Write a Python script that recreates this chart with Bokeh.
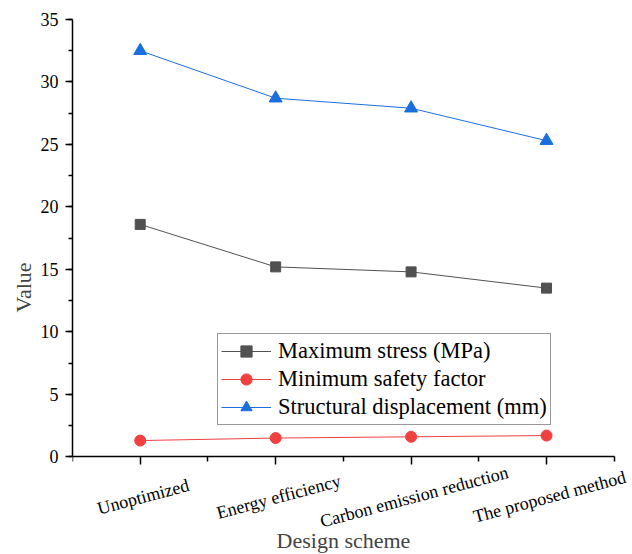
from bokeh.plotting import figure
from bokeh.models import Range1d, FixedTicker, SingleIntervalTicker, Legend, Label
from bokeh.embed import file_html
from bokeh.resources import INLINE

categories = ["Unoptimized", "Energy efficiency", "Carbon emission reduction", "The proposed method"]
max_stress = [18.6, 15.2, 14.8, 13.5]
min_safety = [1.3, 1.5, 1.6, 1.7]
displacement = [32.5, 28.7, 27.9, 25.3]

FONT = "Liberation Serif"
xs = list(range(1, len(categories) + 1))

# frame extends below y=0 and right of the last category so that the rotated
# category labels are not clipped; axes are bounded to the data area
p = figure(frame_width=558, frame_height=536, output_backend="svg", toolbar_location=None,
           x_range=Range1d(0.5, 4.62), y_range=Range1d(-7.9, 35),
           min_border_left=72, min_border_top=19, min_border_right=0, min_border_bottom=0)
p.outline_line_color = None
p.xgrid.visible = False
p.ygrid.visible = False

c_sq, c_ci, c_tr = "#515151", "#F14040", "#1A6FDF"

r1 = p.line(xs, max_stress, line_color=c_sq, line_width=1)
s1 = p.scatter(xs, max_stress, marker="square", size=10, fill_color=c_sq, line_color=c_sq)
r2 = p.line(xs, min_safety, line_color=c_ci, line_width=1)
s2 = p.scatter(xs, min_safety, marker="circle", size=11, fill_color=c_ci, line_color=c_ci)
r3 = p.line(xs, displacement, line_color=c_tr, line_width=1)
s3 = p.scatter(xs, displacement, marker="triangle", size=13, fill_color=c_tr, line_color=c_tr)

legend = Legend(items=[("Maximum stress (MPa)", [r1, s1]),
                       ("Minimum safety factor", [r2, s2]),
                       ("Structural displacement (mm)", [r3, s3])],
                location=(145, 130), padding=3, spacing=0, margin=0,
                glyph_width=50, glyph_height=28, label_height=28, label_standoff=7,
                label_text_font=FONT, label_text_font_size="22.5px", label_text_color="black",
                border_line_color="#333333", border_line_width=1, background_fill_alpha=1)
p.add_layout(legend, "center")

ax = p.xaxis[0]
ax.fixed_location = 0
ax.bounds = (0.5, len(categories) + 0.5)
ax.ticker = FixedTicker(ticks=xs, minor_ticks=[x - 0.5 for x in xs] + [xs[-1] + 0.5])
ax.major_label_overrides = {x: "" for x in xs}
ax.major_label_text_font_size = "0px"
ax.major_tick_out = 8
ax.major_tick_in = 0
ax.minor_tick_out = 5
ax.minor_tick_in = 0
ax.axis_line_width = 1.5
ax.major_tick_line_width = 1.5
ax.minor_tick_line_width = 1.5
ax.axis_label = "Design scheme"
ax.axis_label_text_font = FONT
ax.axis_label_text_font_size = "22px"
ax.axis_label_text_font_style = "normal"
ax.axis_label_standoff = 63

ay = p.yaxis[0]
ay.bounds = (0, 35)
ay.ticker = SingleIntervalTicker(interval=5, num_minor_ticks=2)
ay.major_tick_out = 7
ay.major_tick_in = 0
ay.minor_tick_out = 4
ay.minor_tick_in = 0
ay.axis_line_width = 1.5
ay.major_tick_line_width = 1.5
ay.minor_tick_line_width = 1.5
ay.major_label_text_font = FONT
ay.major_label_text_font_size = "18px"
ay.major_label_text_color = "black"
ay.major_label_standoff = 7
ay.axis_label = "Value"
ay.axis_label_text_font = FONT
ay.axis_label_text_font_size = "22px"
ay.axis_label_text_font_style = "normal"
ay.axis_label_standoff = 2

for x, cat in zip(xs, categories):
    p.add_layout(Label(x=x, y=0, x_offset=3, y_offset=-40, text=cat, angle=0.26,
                       text_align="center", text_baseline="middle",
                       text_font=FONT, text_font_size="18px", text_color="black"))

open("out.html", "w").write(file_html(p, INLINE))
